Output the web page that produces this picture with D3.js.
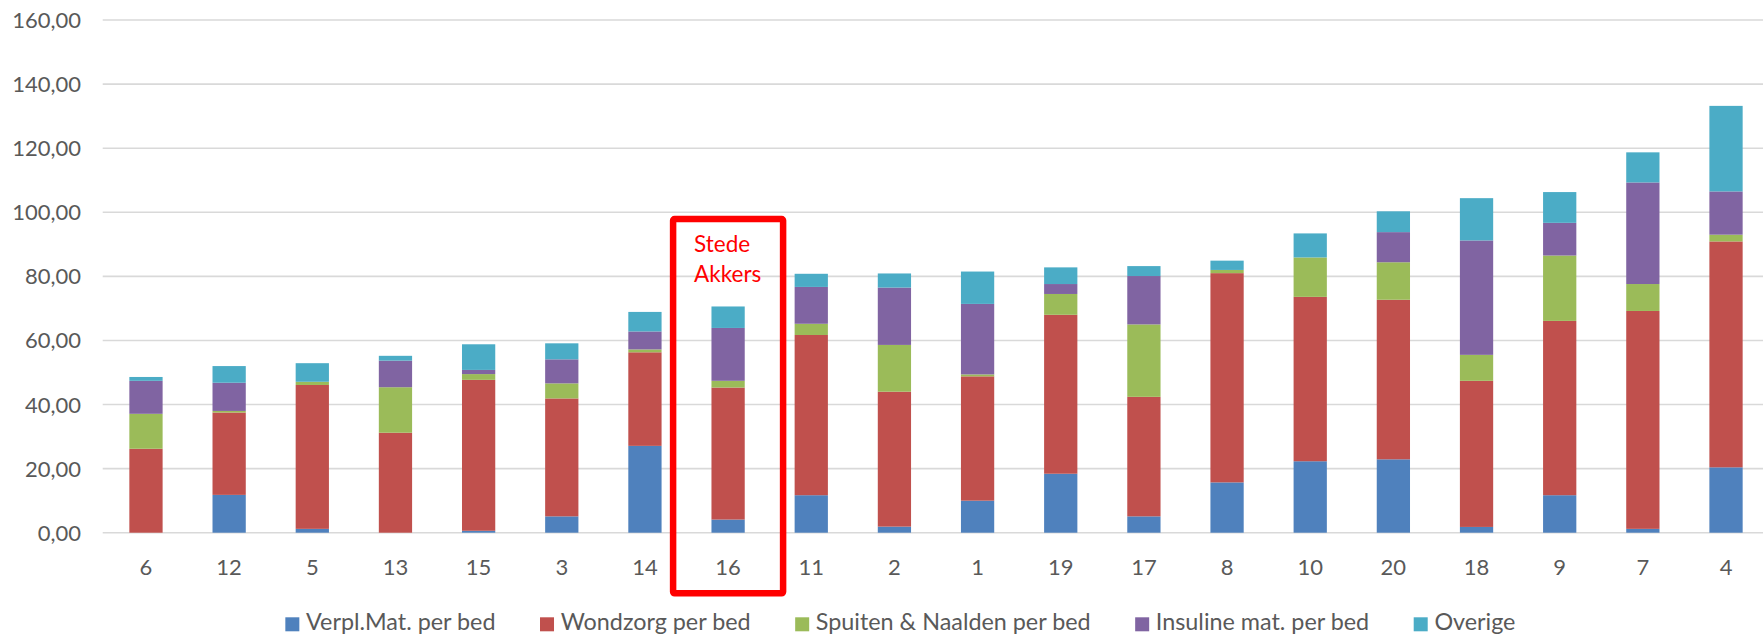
<!DOCTYPE html>
<html>
<head>
<meta charset="utf-8">
<script src="https://cdn.jsdelivr.net/npm/d3@7"></script>
<style>
  html, body { margin: 0; padding: 0; background: #ffffff; }
  svg { display: block; }
  text { font-family: Lato, "Open Sans", sans-serif; }
</style>
</head>
<body>
<svg id="chart" width="1763" height="641"></svg>
<script>
// ---- data ----
const categories = ["6","12","5","13","15","3","14","16","11","2","1","19","17","8","10","20","18","9","7","4"];
const seriesNames = ["Verpl.Mat. per bed","Wondzorg per bed","Spuiten & Naalden per bed","Insuline mat. per bed","Overige"];
const verplMat   = [0,   11.8, 1.2, 0,    0.6, 5.1, 27.1, 4.1, 11.7, 1.9, 10.0, 18.4, 5.1, 15.7, 22.3, 22.9, 1.8, 11.7, 1.2, 20.4];
const wondzorg   = [26.2,25.7, 44.9,31.2, 47.1,36.8,29.2, 41.2,50.0, 42.1,38.8, 49.6, 37.3,65.3, 51.3, 49.8, 45.6,54.4, 68.0,70.5];
const spuiten    = [10.9,0.5,  1.0, 14.2, 1.8, 4.7, 0.9,  2.1, 3.5,  14.6,0.6,  6.5,  22.6,1.0,  12.3, 11.7, 8.1, 20.4, 8.4, 2.1];
const insuline   = [10.3,8.8,  0,   8.3,  1.3, 7.5, 5.6,  16.5,11.5, 17.9,22.0, 3.1,  15.1,0,    0,    9.4,  35.7,10.2, 31.7,13.5];
const overige    = [1.2, 5.2,  5.8, 1.5,  8.0, 5.0, 6.1,  6.7, 4.1,  4.4, 10.1, 5.2,  3.1, 2.9,  7.5,  6.5,  13.2,9.6,  9.4, 26.7];
const yTicks = [0,20,40,60,80,100,120,140,160];
const highlightCategory = "16";
const highlightLabel = ["Stede","Akkers"];

// ---- setup ----
const colors = ["#4F81BD","#C0504D","#9BBB59","#8064A2","#4BACC6"];
const svg = d3.select("#chart");
const plotLeft = 102.7, plotRight = 1763;
const x = d3.scaleBand().domain(categories).range([104.4, 1767.6]).paddingInner(0.6).paddingOuter(0.3);
const y = d3.scaleLinear().domain([0,160]).range([532.7, 20]);

const rows = categories.map((c,i) => ({
  cat: c,
  s0: verplMat[i], s1: wondzorg[i], s2: spuiten[i], s3: insuline[i], s4: overige[i]
}));
const keys = ["s0","s1","s2","s3","s4"];
const stacked = d3.stack().keys(keys)(rows);

// gridlines
svg.append("g").selectAll("line").data(yTicks).join("line")
  .attr("x1", plotLeft).attr("x2", plotRight)
  .attr("y1", d => y(d)).attr("y2", d => y(d))
  .attr("stroke", "#d9d9d9").attr("stroke-width", 1.6);

// y labels
const fmt = v => v.toFixed(2).replace(".", ",");
svg.append("g").selectAll("text").data(yTicks).join("text")
  .attr("x", 81).attr("y", d => y(d) + 8)
  .attr("text-anchor", "end")
  .attr("font-size", 22).attr("fill", "#595959")
  .text(d => fmt(d));

// bars
svg.append("g").selectAll("g").data(stacked).join("g")
  .attr("fill", (d,i) => colors[i])
  .selectAll("rect").data(d => d).join("rect")
  .attr("x", d => x(d.data.cat))
  .attr("width", x.bandwidth())
  .attr("y", d => y(d[1]))
  .attr("height", d => Math.max(0, y(d[0]) - y(d[1])));

// x labels
svg.append("g").selectAll("text").data(categories).join("text")
  .attr("x", d => x(d) + x.bandwidth()/2)
  .attr("y", 575)
  .attr("text-anchor", "middle")
  .attr("font-size", 22).attr("fill", "#595959")
  .text(d => d);

// highlight box
const hc = x(highlightCategory) + x.bandwidth()/2;
svg.append("rect")
  .attr("x", hc - 55).attr("y", 219)
  .attr("width", 110).attr("height", 374.3)
  .attr("fill", "none").attr("stroke", "#FF0000").attr("stroke-width", 6.5)
  .attr("rx", 1.5);
svg.append("g").selectAll("text").data(highlightLabel).join("text")
  .attr("x", hc - 34)
  .attr("y", (d,i) => 252.3 + i*29.4)
  .attr("font-size", 22.5).attr("fill", "#FF0000")
  .text(d => d);

// legend
const lg = svg.append("g");
const items = lg.selectAll("g").data(seriesNames).join("g");
items.append("rect").attr("width", 14).attr("height", 14).attr("y", 617.3)
  .attr("fill", (d,i) => colors[i]);
const legendTexts = items.append("text").attr("x", 20.7).attr("y", 629.5)
  .attr("font-size", 22).attr("fill", "#595959").text(d => d);
// fit the legend text to the reference's overall text width
let sumW = 0;
legendTexts.each(function() { sumW += this.getComputedTextLength(); });
const targetTextWidth = 949;
legendTexts.attr("font-size", 22 * targetTextWidth / sumW);
let cursor = 0;
const offsets = [];
items.each(function() {
  offsets.push(cursor);
  const tw = d3.select(this).select("text").node().getComputedTextLength();
  cursor += 20.7 + tw + 44.5;
});
const total = cursor - 44.5;
const start = 900.4 - total/2;
items.attr("transform", (d,i) => `translate(${start + offsets[i]},0)`);
</script>
</body>
</html>
